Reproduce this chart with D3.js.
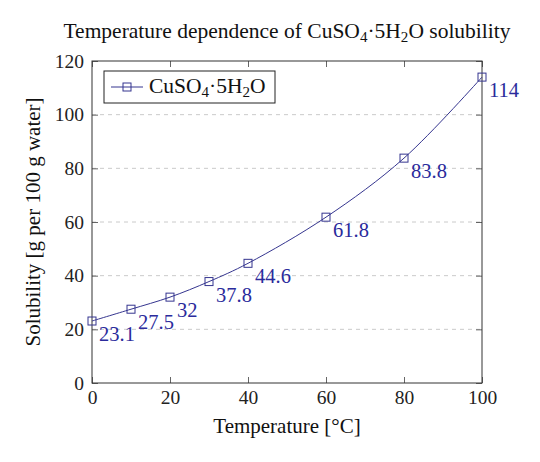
<!DOCTYPE html>
<html>
<head>
<meta charset="utf-8">
<script src="https://cdn.jsdelivr.net/npm/d3@7"></script>
<style>
  body { margin: 0; background: #fff; }
  text { font-family: "Liberation Serif", "DejaVu Serif", serif; }
</style>
</head>
<body>
<svg id="chart" width="540" height="462"></svg>
<script>
// data
var temps = [0, 10, 20, 30, 40, 60, 80, 100];
var solubility = [23.1, 27.5, 32, 37.8, 44.6, 61.8, 83.8, 114];
var pointLabels = ["23.1", "27.5", "32", "37.8", "44.6", "61.8", "83.8", "114"];
var xTicks = [0, 20, 40, 60, 80, 100];
var yTicks = [0, 20, 40, 60, 80, 100, 120];

// plot box (window.top is reserved, so no "top" here)
var plotL = 92, plotR = 482, plotT = 61, plotB = 383;
var lineColor = "#35358f";
var labelColor = "#2b2b9c";

var svg = d3.select("#chart");

var x = d3.scaleLinear().domain([0, 100]).range([plotL, plotR]);
var y = d3.scaleLinear().domain([0, 120]).range([plotB, plotT]);

// dashed grid on y ticks
svg.append("g")
  .selectAll("line")
  .data(yTicks.filter(function(d){ return d > 0 && d < 120; }))
  .enter().append("line")
  .attr("x1", plotL).attr("x2", plotR)
  .attr("y1", function(d){ return y(d); })
  .attr("y2", function(d){ return y(d); })
  .attr("stroke", "#c4c4c4")
  .attr("stroke-width", 0.9)
  .attr("stroke-dasharray", "4,4");

// axes: ticks pointing inward, on all four sides
function styleAxis(g) {
  g.select(".domain").remove();
  g.selectAll(".tick line").attr("stroke", "#555").attr("stroke-width", 0.9);
  g.selectAll(".tick text")
    .attr("fill", "#222")
    .style("font-size", "19.5px")
    .style("font-family", "'Liberation Serif', 'DejaVu Serif', serif");
}

svg.append("g")
  .attr("transform", "translate(0," + plotB + ")")
  .call(d3.axisBottom(x).tickValues(xTicks).tickSizeInner(-6).tickSizeOuter(0).tickPadding(7))
  .call(styleAxis);

svg.append("g")
  .attr("transform", "translate(0," + plotT + ")")
  .call(d3.axisTop(x).tickValues(xTicks).tickSizeInner(-6).tickSizeOuter(0).tickFormat(""))
  .call(styleAxis);

svg.append("g")
  .attr("transform", "translate(" + plotL + ",0)")
  .call(d3.axisLeft(y).tickValues(yTicks).tickSizeInner(-6).tickSizeOuter(0).tickPadding(8))
  .call(styleAxis);

svg.append("g")
  .attr("transform", "translate(" + plotR + ",0)")
  .call(d3.axisRight(y).tickValues(yTicks).tickSizeInner(-6).tickSizeOuter(0).tickFormat(""))
  .call(styleAxis);

// frame
svg.append("rect")
  .attr("x", plotL).attr("y", plotT)
  .attr("width", plotR - plotL).attr("height", plotB - plotT)
  .attr("fill", "none")
  .attr("stroke", "#333")
  .attr("stroke-width", 1);

// line
var pts = temps.map(function(t, i){ return [t, solubility[i]]; });
var line = d3.line()
  .x(function(d){ return x(d[0]); })
  .y(function(d){ return y(d[1]); })
  .curve(d3.curveCatmullRom.alpha(0.5));

svg.append("path")
  .datum(pts)
  .attr("d", line)
  .attr("fill", "none")
  .attr("stroke", lineColor)
  .attr("stroke-width", 1);

// square markers
svg.append("g")
  .selectAll("rect")
  .data(pts)
  .enter().append("rect")
  .attr("x", function(d){ return x(d[0]) - 4; })
  .attr("y", function(d){ return y(d[1]) - 4; })
  .attr("width", 8).attr("height", 8)
  .attr("fill", "none")
  .attr("stroke", lineColor)
  .attr("stroke-width", 1);

// point labels (below right)
svg.append("g")
  .selectAll("text")
  .data(pts)
  .enter().append("text")
  .attr("x", function(d){ return x(d[0]) + 7; })
  .attr("y", function(d){ return y(d[1]) + 20; })
  .attr("fill", labelColor)
  .style("font-size", "20.5px")
  .text(function(d, i){ return pointLabels[i]; });

// formula with subscripts
function formula(sel) {
  sel.append("tspan").text("CuSO");
  sel.append("tspan").attr("dy", 4).style("font-size", "0.7em").text("4");
  sel.append("tspan").attr("dy", -4).text("·5H");
  sel.append("tspan").attr("dy", 4).style("font-size", "0.7em").text("2");
  sel.append("tspan").attr("dy", -4).text("O");
}

// legend
var legend = svg.append("g");
legend.append("rect")
  .attr("x", 104).attr("y", 71)
  .attr("width", 171).attr("height", 32)
  .attr("fill", "#fff")
  .attr("stroke", "#222")
  .attr("stroke-width", 1);
legend.append("line")
  .attr("x1", 111).attr("x2", 143)
  .attr("y1", 87).attr("y2", 87)
  .attr("stroke", lineColor).attr("stroke-width", 1);
legend.append("rect")
  .attr("x", 123).attr("y", 83)
  .attr("width", 8).attr("height", 8)
  .attr("fill", "none").attr("stroke", lineColor).attr("stroke-width", 1);
legend.append("text")
  .attr("x", 149).attr("y", 93)
  .attr("fill", "#111")
  .style("font-size", "21.5px")
  .call(formula);

// title
var title = svg.append("text")
  .attr("x", (plotL + plotR) / 2).attr("y", 38)
  .attr("text-anchor", "middle")
  .attr("fill", "#111")
  .style("font-size", "21.5px");
title.append("tspan").text("Temperature dependence of ");
formula(title);
title.append("tspan").text(" solubility");

// axis titles
svg.append("text")
  .attr("x", (plotL + plotR) / 2).attr("y", 433)
  .attr("text-anchor", "middle")
  .attr("fill", "#111")
  .style("font-size", "21px")
  .text("Temperature [°C]");

svg.append("text")
  .attr("transform", "translate(40," + ((plotT + plotB) / 2) + ") rotate(-90)")
  .attr("text-anchor", "middle")
  .attr("fill", "#111")
  .style("font-size", "21px")
  .text("Solubility [g per 100 g water]");
</script>
</body>
</html>
